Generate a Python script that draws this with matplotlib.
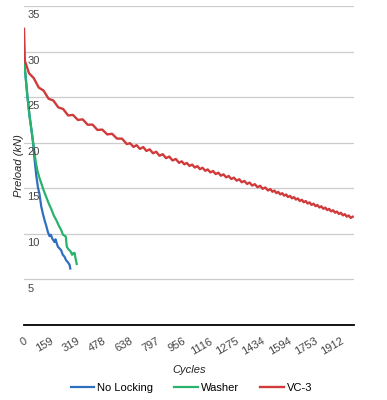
import matplotlib
matplotlib.use("Agg")
import matplotlib.pyplot as plt

plt.rcParams['font.family'] = ['Liberation Sans', 'DejaVu Sans']

# series (cycles, kN)
no_locking_x = [0, 8, 20, 33, 45, 56, 64, 74, 84, 93, 104, 114, 124, 134, 144, 154, 162, 170, 184,
                190, 204, 214, 224, 234, 244, 254, 264, 275, 279]
no_locking_y = [28.8, 27.6, 25.2, 23.0, 21.4, 19.8, 18.1, 16.4, 15.1, 14.4, 13.0, 12.2, 11.5, 10.9,
                10.2, 9.75, 9.9, 9.5, 9.1, 9.4, 8.6, 8.4, 8.2, 7.7, 7.5, 7.1, 6.9, 6.6, 6.2]

washer_x = [0, 8, 20, 33, 45, 58, 70, 80, 92, 105, 118, 135, 150, 165, 180, 195, 210, 225, 235,
            245, 252, 258, 268, 280, 290, 298, 305, 312, 318]
washer_y = [28.8, 27.6, 25.2, 23.0, 21.4, 19.6, 18.0, 17.0, 16.2, 15.5, 14.8, 14.0, 13.3, 12.7, 12.0,
            11.5, 10.9, 10.4, 9.9, 9.8, 9.7, 8.6, 8.3, 8.1, 7.7, 7.9, 7.9, 7.2, 6.7]

vc3_x = [0, 5, 30, 59, 89, 118, 148, 177, 207, 236, 266, 295, 325, 354, 384, 413, 443, 472, 502,
         531, 561, 591, 620,
         640, 660, 679, 699, 719, 738, 758, 778, 797, 817, 837, 856, 876, 896, 915, 935,
         951, 967, 982, 998, 1014, 1030, 1046, 1061, 1077, 1093, 1108, 1124, 1140, 1156, 1172,
         1187, 1203, 1219, 1234, 1250, 1266, 1282, 1298, 1313, 1329, 1345, 1360, 1376, 1392,
         1408, 1424, 1439, 1455, 1471, 1486,
         1498, 1510, 1522, 1533, 1545, 1557, 1569, 1581, 1592, 1604, 1616, 1628, 1640, 1651,
         1663, 1675, 1687, 1699, 1710, 1722, 1734, 1746, 1758, 1769, 1781, 1793, 1805, 1817,
         1828, 1840, 1852, 1864, 1876, 1887, 1899, 1911, 1923, 1935, 1946, 1958, 1970, 1982]
vc3_y = [32.5, 29.0, 27.63, 27.08, 26.05, 25.72, 24.83, 24.63, 23.87, 23.70, 22.99, 23.05, 22.50,
         22.56, 21.97, 21.99, 21.40, 21.44, 20.91, 20.98, 20.45, 20.45, 19.85,
         19.95, 19.54, 19.73, 19.32, 19.52, 19.10, 19.27, 18.84, 19.01, 18.57, 18.74, 18.31,
         18.48, 18.05, 18.22, 17.79,
         17.96, 17.63, 17.78, 17.45, 17.60, 17.28, 17.43, 17.10, 17.25, 16.92, 17.07, 16.74,
         16.89, 16.56, 16.71, 16.38, 16.53, 16.20, 16.35, 16.02, 16.17, 15.84, 15.99, 15.66,
         15.81, 15.48, 15.63, 15.30, 15.45, 15.12, 15.27, 14.94, 15.09, 14.76, 14.91,
         14.62, 14.75, 14.47, 14.60, 14.33, 14.46, 14.19, 14.32, 14.04, 14.17, 13.90, 14.03,
         13.76, 13.89, 13.61, 13.74, 13.47, 13.60, 13.33, 13.45, 13.18, 13.31, 13.04, 13.17,
         12.90, 13.02, 12.75, 12.88, 12.61, 12.74, 12.47, 12.59, 12.32, 12.45, 12.18, 12.31,
         12.03, 12.16, 11.89, 12.02, 11.75, 11.88]

x_ticks = [0, 159, 319, 478, 638, 797, 956, 1116, 1275, 1434, 1594, 1753, 1912]
y_ticks = [5, 10, 15, 20, 25, 30, 35]

fig = plt.figure(figsize=(3.87, 4.0), dpi=100)
ax = fig.add_axes([24 / 387, 1 - 325 / 400, 330 / 387, 319 / 400])

ax.plot(no_locking_x, no_locking_y, color='#2f6fbf', lw=1.6, label='No Locking')
ax.plot(washer_x, washer_y, color='#27b36b', lw=1.6, label='Washer')
ax.plot(vc3_x, vc3_y, color='#d03a3a', lw=1.7, label='VC-3')

ax.set_xlim(0, 1990)
ax.set_ylim(0, 35)

for v in y_ticks:
    ax.axhline(v, color='#cccccc', lw=0.9, zorder=0)
    ax.annotate(str(v), xy=(0, v), xycoords=ax.get_yaxis_transform(),
                xytext=(2.5, -3), textcoords='offset points',
                ha='left', va='top', fontsize=8, color='#444444')
ax.set_yticks([])

for s in ['top', 'right', 'left']:
    ax.spines[s].set_visible(False)
ax.spines['bottom'].set_color('black')
ax.spines['bottom'].set_linewidth(1.3)

ax.set_xticks(x_ticks)
ax.set_xticklabels([str(t) for t in x_ticks], rotation=30, ha='right', va='top',
                   rotation_mode='anchor', fontsize=8, color='#444444')
ax.tick_params(axis='x', length=0, pad=8)

ax.set_xlabel('Cycles', fontstyle='italic', fontsize=8, color='#222222')
ax.xaxis.set_label_coords(0.5, -0.125)
ax.set_ylabel('Preload (kN)', fontstyle='italic', fontsize=8, color='#222222')
ax.yaxis.set_label_coords(0.0, 0.5)

fig.legend(loc='center', bbox_to_anchor=(0.495, 0.03), ncol=3, frameon=False,
           fontsize=8, handlelength=2.1, columnspacing=1.9, handletextpad=0.3)

fig.savefig('out.png', dpi=100, facecolor='white')
